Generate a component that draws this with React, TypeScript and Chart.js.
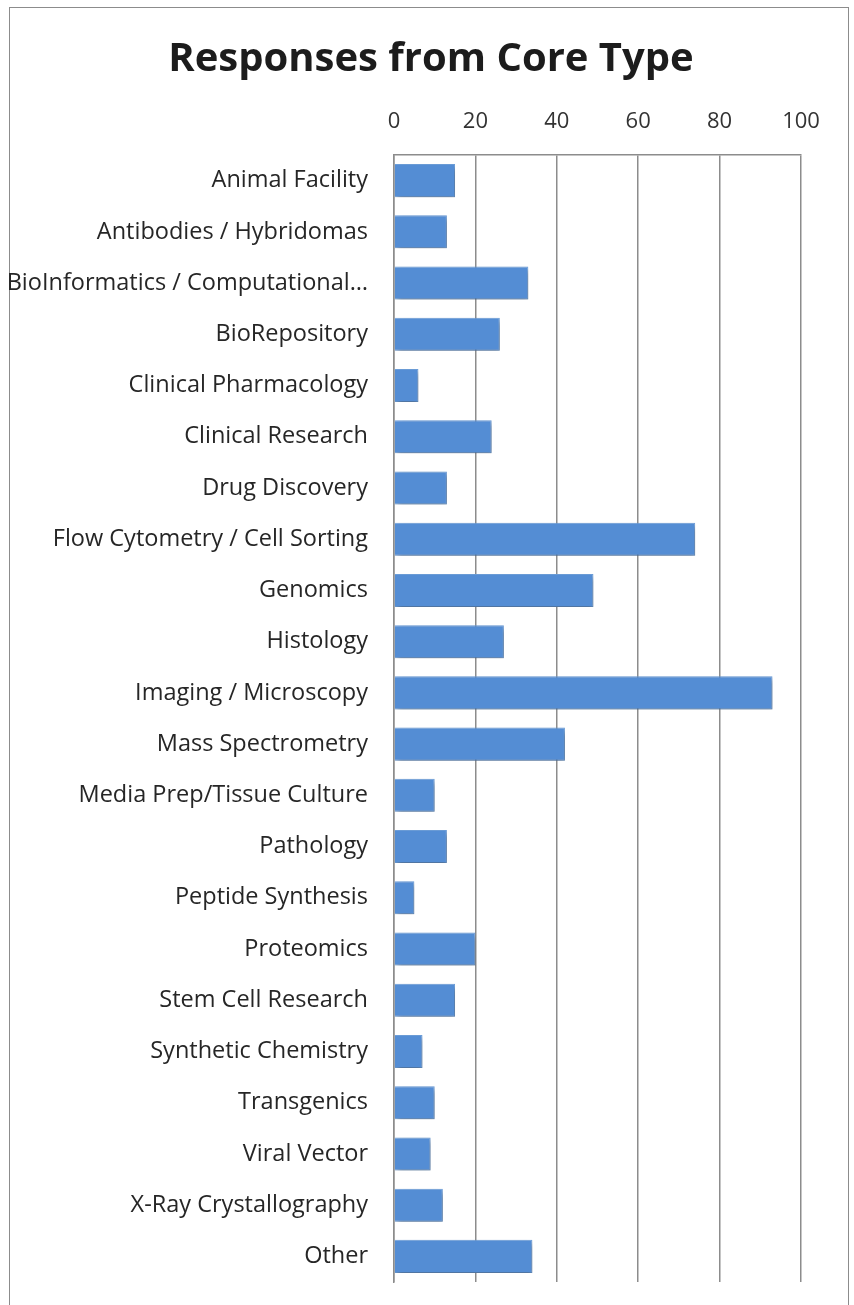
import React, { useEffect, useRef } from "react";
import { Chart, registerables } from "chart.js";

Chart.register(...registerables);

const categories = [
  "Animal Facility",
  "Antibodies / Hybridomas",
  "BioInformatics / Computational…",
  "BioRepository",
  "Clinical Pharmacology",
  "Clinical Research",
  "Drug Discovery",
  "Flow Cytometry / Cell Sorting",
  "Genomics",
  "Histology",
  "Imaging / Microscopy",
  "Mass Spectrometry",
  "Media Prep/Tissue Culture",
  "Pathology",
  "Peptide Synthesis",
  "Proteomics",
  "Stem Cell Research",
  "Synthetic Chemistry",
  "Transgenics",
  "Viral Vector",
  "X-Ray Crystallography",
  "Other",
];

const responses = [15, 13, 33, 26, 6, 24, 13, 74, 49, 27, 93, 42, 10, 13, 5, 20, 15, 7, 10, 9, 12, 34];

const xTicks = [0, 20, 40, 60, 80, 100];

const titleText = "Responses from Core Type";

const FONT = "'Open Sans', Lato, sans-serif";

const shadowPlugin = {
  id: "barShadow",
  beforeDatasetsDraw(chart: any) {
    const ctx = chart.ctx;
    ctx.save();
    ctx.shadowColor = "rgba(0,0,0,0.35)";
    ctx.shadowBlur = 6;
    ctx.shadowOffsetX = 2;
    ctx.shadowOffsetY = 3;
  },
  afterDatasetsDraw(chart: any) {
    chart.ctx.restore();
  },
};

const titlePlugin = {
  id: "centeredTitle",
  afterDraw(chart: any) {
    const ctx = chart.ctx;
    ctx.save();
    ctx.font = `bold 40px ${FONT}`;
    ctx.fillStyle = "#1c1c1c";
    ctx.textAlign = "center";
    ctx.textBaseline = "middle";
    ctx.fillText(titleText, chart.width / 2 + 4, 60);
    ctx.restore();
  },
};

export default function App() {
  const ref = useRef<HTMLCanvasElement | null>(null);

  useEffect(() => {
    if (!ref.current) return;
    const chart = new Chart(ref.current, {
      type: "bar",
      data: {
        labels: categories,
        datasets: [
          {
            data: responses,
            backgroundColor: "#548DD4",
            borderColor: "#6FA2DF",
            borderWidth: 1,
            barPercentage: 0.645,
            categoryPercentage: 1,
          },
        ],
      },
      plugins: [shadowPlugin, titlePlugin],
      options: {
        indexAxis: "y",
        responsive: false,
        animation: false,
        layout: { padding: { top: 101, left: 0, right: 53, bottom: 23 } },
        plugins: {
          legend: { display: false },
          tooltip: { enabled: false },
          title: { display: false },
        },
        scales: {
          x: {
            position: "top",
            min: 0,
            max: 100,
            afterBuildTicks(scale: any) {
              scale.ticks = xTicks.map((v) => ({ value: v }));
            },
            afterFit(scale: any) {
              scale.height = 54;
            },
            grid: {
              color: "#8c8c8c",
              lineWidth: 1.5,
              drawTicks: false,
            },
            border: { display: true, color: "#8c8c8c", width: 1.5 },
            ticks: {
              padding: 20,
              color: "#333333",
              font: { family: FONT, size: 22 },
            },
          },
          y: {
            afterFit(scale: any) {
              scale.width = 394;
            },
            grid: { display: false, drawTicks: true, tickLength: 26 },
            border: { display: true, color: "#8c8c8c", width: 1.5 },
            ticks: {
              padding: 0,
              color: "#262626",
              autoSkip: false,
              font: { family: FONT, size: 23.5 },
            },
          },
        },
      },
    } as any);
    return () => chart.destroy();
  }, []);

  return (
    <div style={{ position: "absolute", left: 0, top: 0, width: 854, height: 1305, overflow: "hidden", background: "#fff" }}>
      <div
        style={{
          position: "absolute",
          left: 9,
          top: 7,
          width: 840,
          height: 1400,
          border: "1.5px solid #8c8c8c",
          boxSizing: "border-box",
        }}
      />
      <canvas ref={ref} width={854} height={1305} style={{ position: "absolute", left: 0, top: 0 }} />
    </div>
  );
}
